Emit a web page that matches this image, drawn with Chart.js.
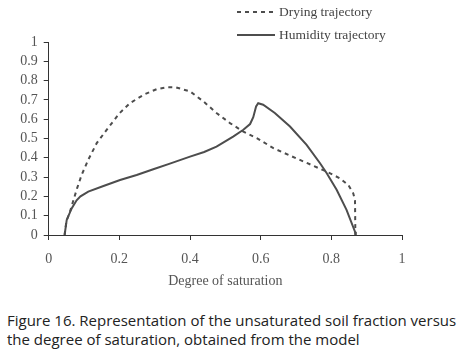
<!DOCTYPE html>
<html>
<head>
<meta charset="utf-8">
<script src="https://cdn.jsdelivr.net/npm/chart.js@4.4.0/dist/chart.umd.min.js"></script>
<style>
  body { margin: 0; background: #fff; }
  #wrap { position: relative; width: 464px; height: 357px; }
  #chart { position: absolute; left: 0; top: 0; }
  #caption {
    position: absolute; left: 7px; top: 311px; width: 460px;
    font-family: "Open Sans", sans-serif; font-size: 15px; line-height: 18.5px;
    color: #222; white-space: nowrap;
  }
</style>
</head>
<body>
<div id="wrap">
  <canvas id="chart" width="464" height="290"></canvas>
  <div id="caption">Figure 16. Representation of the unsaturated soil fraction versus<br>the degree of saturation, obtained from the model</div>
</div>
<script>
// values
const dryingX = [0.045, 0.05, 0.06, 0.07, 0.08, 0.093, 0.112, 0.136, 0.164, 0.2, 0.23, 0.27, 0.306, 0.335, 0.36, 0.4, 0.438, 0.475, 0.513, 0.551, 0.589, 0.636, 0.711, 0.787, 0.824, 0.848, 0.862, 0.867, 0.868]
const dryingY = [0, 0.07, 0.12, 0.18, 0.24, 0.31, 0.39, 0.476, 0.545, 0.63, 0.683, 0.728, 0.756, 0.766, 0.765, 0.744, 0.692, 0.632, 0.58, 0.536, 0.502, 0.45, 0.389, 0.328, 0.294, 0.259, 0.216, 0.18, 0]

const humidityX = [0.045, 0.051, 0.065, 0.079, 0.09, 0.112, 0.155, 0.202, 0.249, 0.296, 0.343, 0.4, 0.44, 0.475, 0.522, 0.551, 0.57, 0.579, 0.587, 0.593, 0.607, 0.64, 0.683, 0.73, 0.768, 0.787, 0.815, 0.843, 0.867, 0.869]
const humidityY = [0, 0.078, 0.138, 0.18, 0.2, 0.225, 0.254, 0.285, 0.311, 0.341, 0.37, 0.406, 0.43, 0.458, 0.51, 0.545, 0.575, 0.61, 0.666, 0.683, 0.675, 0.632, 0.562, 0.467, 0.372, 0.32, 0.234, 0.13, 0.017, 0]

const xTicks = [0, 0.2, 0.4, 0.6, 0.8, 1]
const yTicks = [0, 0.1, 0.2, 0.3, 0.4, 0.5, 0.6, 0.7, 0.8, 0.9, 1]

function toPoints(xs, ys){
    return xs.map(function(x, i){ return {x: x, y: ys[i]} })
}

const lineColor = '#4d4d4d'
const serif = '"Liberation Serif", "Times New Roman", serif'

// legend drawn at the top right like in the figure
const sideLegend = {
    id: 'sideLegend',
    afterDraw(chart){
        const c = chart.ctx
        const rows = [12, 35]
        c.save()
        chart.data.datasets.forEach(function(ds, i){
            let y = rows[i]
            c.strokeStyle = ds.borderColor
            c.lineWidth = ds.borderWidth
            c.setLineDash(ds.borderDash || [])
            c.beginPath()
            c.moveTo(237, y)
            c.lineTo(275, y)
            c.stroke()
            c.setLineDash([])
            c.fillStyle = '#444'
            c.font = '13.5px ' + serif
            c.textBaseline = 'middle'
            c.fillText(ds.label, 279, y)
        })
        c.restore()
    }
}

var ctx = document.getElementById('chart')
var chart = new Chart(ctx, {
    type: 'scatter',
    data: {
        datasets: [{
            label: 'Drying trajectory',
            data: toPoints(dryingX, dryingY),
            showLine: true,
            borderColor: lineColor,
            borderWidth: 2,
            borderDash: [4, 4],
            pointRadius: 0,
            tension: 0
        }, {
            label: 'Humidity trajectory',
            data: toPoints(humidityX, humidityY),
            showLine: true,
            borderColor: lineColor,
            borderWidth: 2,
            pointRadius: 0,
            tension: 0
        }]
    },
    options: {
        responsive: false,
        animation: false,
        layout: { padding: { top: 42, right: 62, bottom: 0, left: 0 } },
        plugins: {
            legend: { display: false },
            tooltip: { enabled: false }
        },
        scales: {
            x: {
                type: 'linear',
                min: 0, max: 1,
                afterBuildTicks: function(s){ s.ticks = xTicks.map(function(v){ return {value: v} }) },
                afterFit: function(s){ s.height = 55 },
                grid: { display: true, drawOnChartArea: false, tickLength: 5, color: '#333' },
                border: { display: true, color: '#333', width: 1 },
                ticks: { autoSkip: false, maxRotation: 0, padding: 11, color: '#555', font: { family: serif, size: 14 }, callback: function(v){ return String(v) } },
                title: { display: true, text: 'Degree of saturation', color: '#555', padding: 0, font: { family: serif, size: 14 } }
            },
            y: {
                type: 'linear',
                min: 0, max: 1,
                afterBuildTicks: function(s){ s.ticks = yTicks.map(function(v){ return {value: v} }) },
                afterFit: function(s){ s.width = 48.7 },
                grid: { display: true, drawOnChartArea: false, tickLength: 5, color: '#333' },
                border: { display: true, color: '#333', width: 1 },
                ticks: { autoSkip: false, padding: 6, color: '#555', font: { family: serif, size: 14 }, callback: function(v){ return String(v) } }
            }
        }
    },
    plugins: [sideLegend]
})
</script>
</body>
</html>
